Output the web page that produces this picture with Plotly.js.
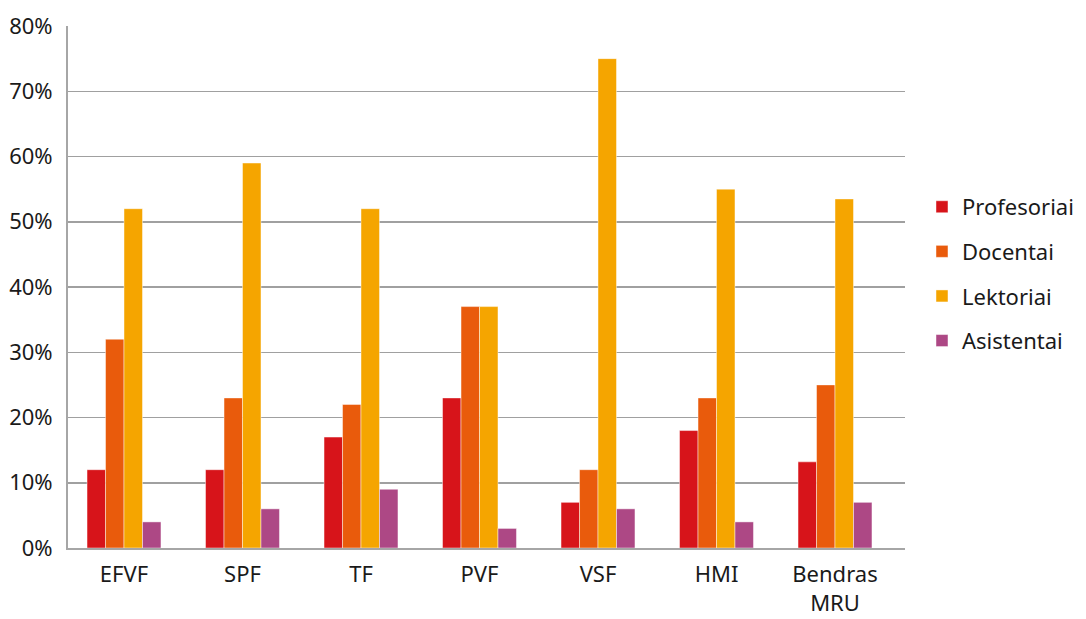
<!DOCTYPE html>
<html>
<head>
<meta charset="utf-8">
<script src="https://cdn.plot.ly/plotly-3.0.1.min.js"></script>
<style>html,body{margin:0;padding:0;background:#fff;}#chart{width:1086px;height:619px;}</style>
</head>
<body>
<div id="chart"></div>
<script>
const categories = ["EFVF", "SPF", "TF", "PVF", "VSF", "HMI", "Bendras<br>MRU"];
const seriesNames = ["Profesoriai", "Docentai", "Lektoriai", "Asistentai"];
const profesoriai = [12, 12, 17, 23, 7, 18, 13.2];
const docentai = [32, 23, 22, 37, 12, 23, 25];
const lektoriai = [52, 59, 52, 37, 75, 55, 53.5];
const asistentai = [4, 6, 9, 3, 6, 4, 7];
const yTickVals = [0, 10, 20, 30, 40, 50, 60, 70, 80];
const yTickText = ["0%", "10%", "20%", "30%", "40%", "50%", "60%", "70%", "80%"];

const colors = ["#D7141A", "#E95B0C", "#F5A500", "#AD4885"];
const allSeries = [profesoriai, docentai, lektoriai, asistentai];

const traces = allSeries.map((vals, i) => ({
  type: "bar",
  name: seriesNames[i],
  x: categories,
  y: vals,
  legendgroup: "g" + i,
  marker: { color: colors[i], line: { color: "rgba(255,255,255,0.45)", width: 1 } },
  hoverinfo: "x+y+name"
}));

const font = { family: "'Noto Sans', 'Open Sans', sans-serif", size: 22, color: "#1a1a1a" };

const layout = {
  width: 1086,
  height: 619,
  margin: { l: 68, r: 181, t: 26, b: 71, autoexpand: false },
  paper_bgcolor: "#ffffff",
  plot_bgcolor: "#ffffff",
  font: font,
  barmode: "group",
  bargap: 0.376,
  bargroupgap: 0,
  showlegend: true,
  legend: {
    x: 1.0203, xanchor: "left",
    y: 0.525, yanchor: "middle",
    font: font,
    tracegroupgap: 13,
    traceorder: "grouped",
    bgcolor: "rgba(0,0,0,0)"
  },
  xaxis: {
    type: "category",
    range: [-0.4726, 6.5907],
    showline: true,
    linecolor: "#A6A6A6",
    linewidth: 2,
    showgrid: false,
    ticks: "",
    ticklabelstandoff: 6,
    tickfont: font,
    fixedrange: true
  },
  yaxis: {
    range: [0, 80],
    tickvals: yTickVals,
    ticktext: yTickText,
    showline: true,
    linecolor: "#A6A6A6",
    linewidth: 2,
    showgrid: true,
    gridcolor: "#A0A0A0",
    gridwidth: 1.5,
    zeroline: false,
    ticks: "",
    ticklabelstandoff: 9,
    tickfont: font,
    fixedrange: true
  }
};

Plotly.newPlot("chart", traces, layout, { displayModeBar: false, staticPlot: true });
</script>
</body>
</html>
